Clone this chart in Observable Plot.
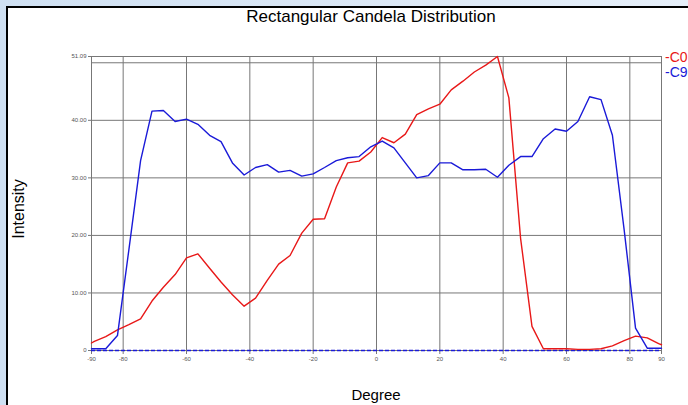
<!DOCTYPE html>
<html><head><meta charset="utf-8">
<script src="https://cdn.jsdelivr.net/npm/d3@7"></script>
<script src="https://cdn.jsdelivr.net/npm/@observablehq/plot@0.6"></script>
<style>
html,body{margin:0;padding:0;}
body{width:688px;height:405px;overflow:hidden;position:relative;background:linear-gradient(90deg,#cfe0f2,#e6eff9);font-family:"Liberation Sans",Arial,sans-serif;}
#panel{position:absolute;left:6px;top:6px;right:0;bottom:0;background:#fff;border-left:2px solid #000;border-top:2px solid #000;}
#chart{position:absolute;left:0;top:0;}
.t{position:absolute;white-space:nowrap;color:#000;}
</style></head><body>
<div id="panel"></div>
<div id="chart"></div>
<div class="t" id="title" style="left:371px;top:7px;transform:translateX(-50%);font-size:17px;">Rectangular Candela Distribution</div>
<div class="t" id="ylab" style="left:19px;top:209px;transform:translate(-50%,-50%) rotate(-90deg);font-size:16px;">Intensity</div>
<div class="t" id="xlab" style="left:376px;top:386px;transform:translateX(-50%);font-size:15px;">Degree</div>
<div id="legend"></div>
<script>
const title = "Rectangular Candela Distribution";
const degrees = [-90,-89.1,-85.5,-81.8,-78.2,-74.5,-70.9,-67.3,-63.6,-60,-56.4,-52.7,-49.1,-45.5,-41.8,-38.2,-34.5,-30.9,-27.3,-23.6,-20,-16.4,-12.7,-9.1,-5.5,-1.8,
  1.8,5.5,9.1,12.7,16.4,20,23.6,27.3,30.9,34.5,38.2,41.8,45.5,49.1,52.7,56.4,60,63.6,67.3,70.9,74.5,78.2,81.8,85.5,89.1,90];
const c0 = [1.3,1.6,2.4,3.6,4.5,5.5,8.6,11.0,13.2,16.1,16.8,14.3,11.9,9.7,7.7,9.1,12.2,15.0,16.5,20.4,22.8,22.9,28.4,32.6,32.9,34.5,
  37.0,36.1,37.6,41.0,42.0,42.8,45.3,46.8,48.4,49.6,51.09,43.9,19.5,4.2,0.3,0.3,0.3,0.2,0.2,0.3,0.8,1.7,2.5,2.2,1.2,1.0];
const c9 = [0.3,0.3,0.3,2.6,17.5,33.0,41.6,41.7,39.8,40.2,39.3,37.4,36.3,32.6,30.5,31.8,32.3,31.0,31.3,30.3,30.7,31.8,33.0,33.5,33.7,35.4,
  36.4,35.2,32.6,30.0,30.4,32.6,32.6,31.4,31.4,31.5,30.1,32.2,33.7,33.7,36.8,38.5,38.1,39.8,44.1,43.6,37.4,21,3.9,0.4,0.4,0.4];
const seriesNames = ["C0","C9"];
const seriesColors = ["#e81818","#1a1ad8"];
const xTicks = [-90,-80,-60,-40,-20,0,20,40,60,80,90];
const xGrid = [-80,-60,-40,-20,0,20,40,60,80];
const yTicks = [0,10,20,30,40,51.09];
const yTickLabels = ["0","10.00","20.00","30.00","40.00","51.09"];
const yGrid = [10,20,30,40,50];
const yMax = 51.09;

const rows = [];
[c0, c9].forEach((vals, s) => vals.forEach((v, i) => rows.push({deg: degrees[i], val: v, series: seriesNames[s]})));

const plot = Plot.plot({
  width: 688, height: 405,
  marginLeft: 91, marginRight: 27, marginTop: 56, marginBottom: 55,
  style: {background: "transparent", fontFamily: "Liberation Sans, Arial, sans-serif"},
  x: {domain: [-90, 90]},
  y: {domain: [0, yMax]},
  color: {domain: seriesNames, range: seriesColors},
  marks: [
    Plot.gridX(xGrid, {stroke: "#777", strokeOpacity: 1, strokeWidth: 1}),
    Plot.gridY(yGrid, {stroke: "#777", strokeOpacity: 1, strokeWidth: 1}),
    Plot.frame({stroke: "#777"}),
    Plot.axisX(xTicks, {tickSize: 4, tickPadding: 2, fontSize: 6, fill: "#555", stroke: "#777", label: null, tickFormat: d => String(d)}),
    Plot.axisY(yTicks, {tickSize: 3, tickPadding: 2, fontSize: 6, fill: "#555", stroke: "#777", label: null, tickFormat: (d, i) => yTickLabels[yTicks.indexOf(d)]}),
    Plot.ruleY([0], {stroke: seriesColors[1], strokeWidth: 1.5, strokeDasharray: "4,2"}),
    Plot.line(rows, {x: "deg", y: "val", z: "series", stroke: "series", strokeWidth: 1.4, curve: "linear"})
  ]
});
document.getElementById("chart").appendChild(plot);

const legend = document.getElementById("legend");
seriesNames.forEach((n, i) => {
  const d = document.createElement("div");
  d.className = "t";
  d.style.cssText = `left:665px;top:${49 + i*15}px;font-size:14px;color:${seriesColors[i]};`;
  d.textContent = "-" + n;
  legend.appendChild(d);
});
</script>
</body></html>
